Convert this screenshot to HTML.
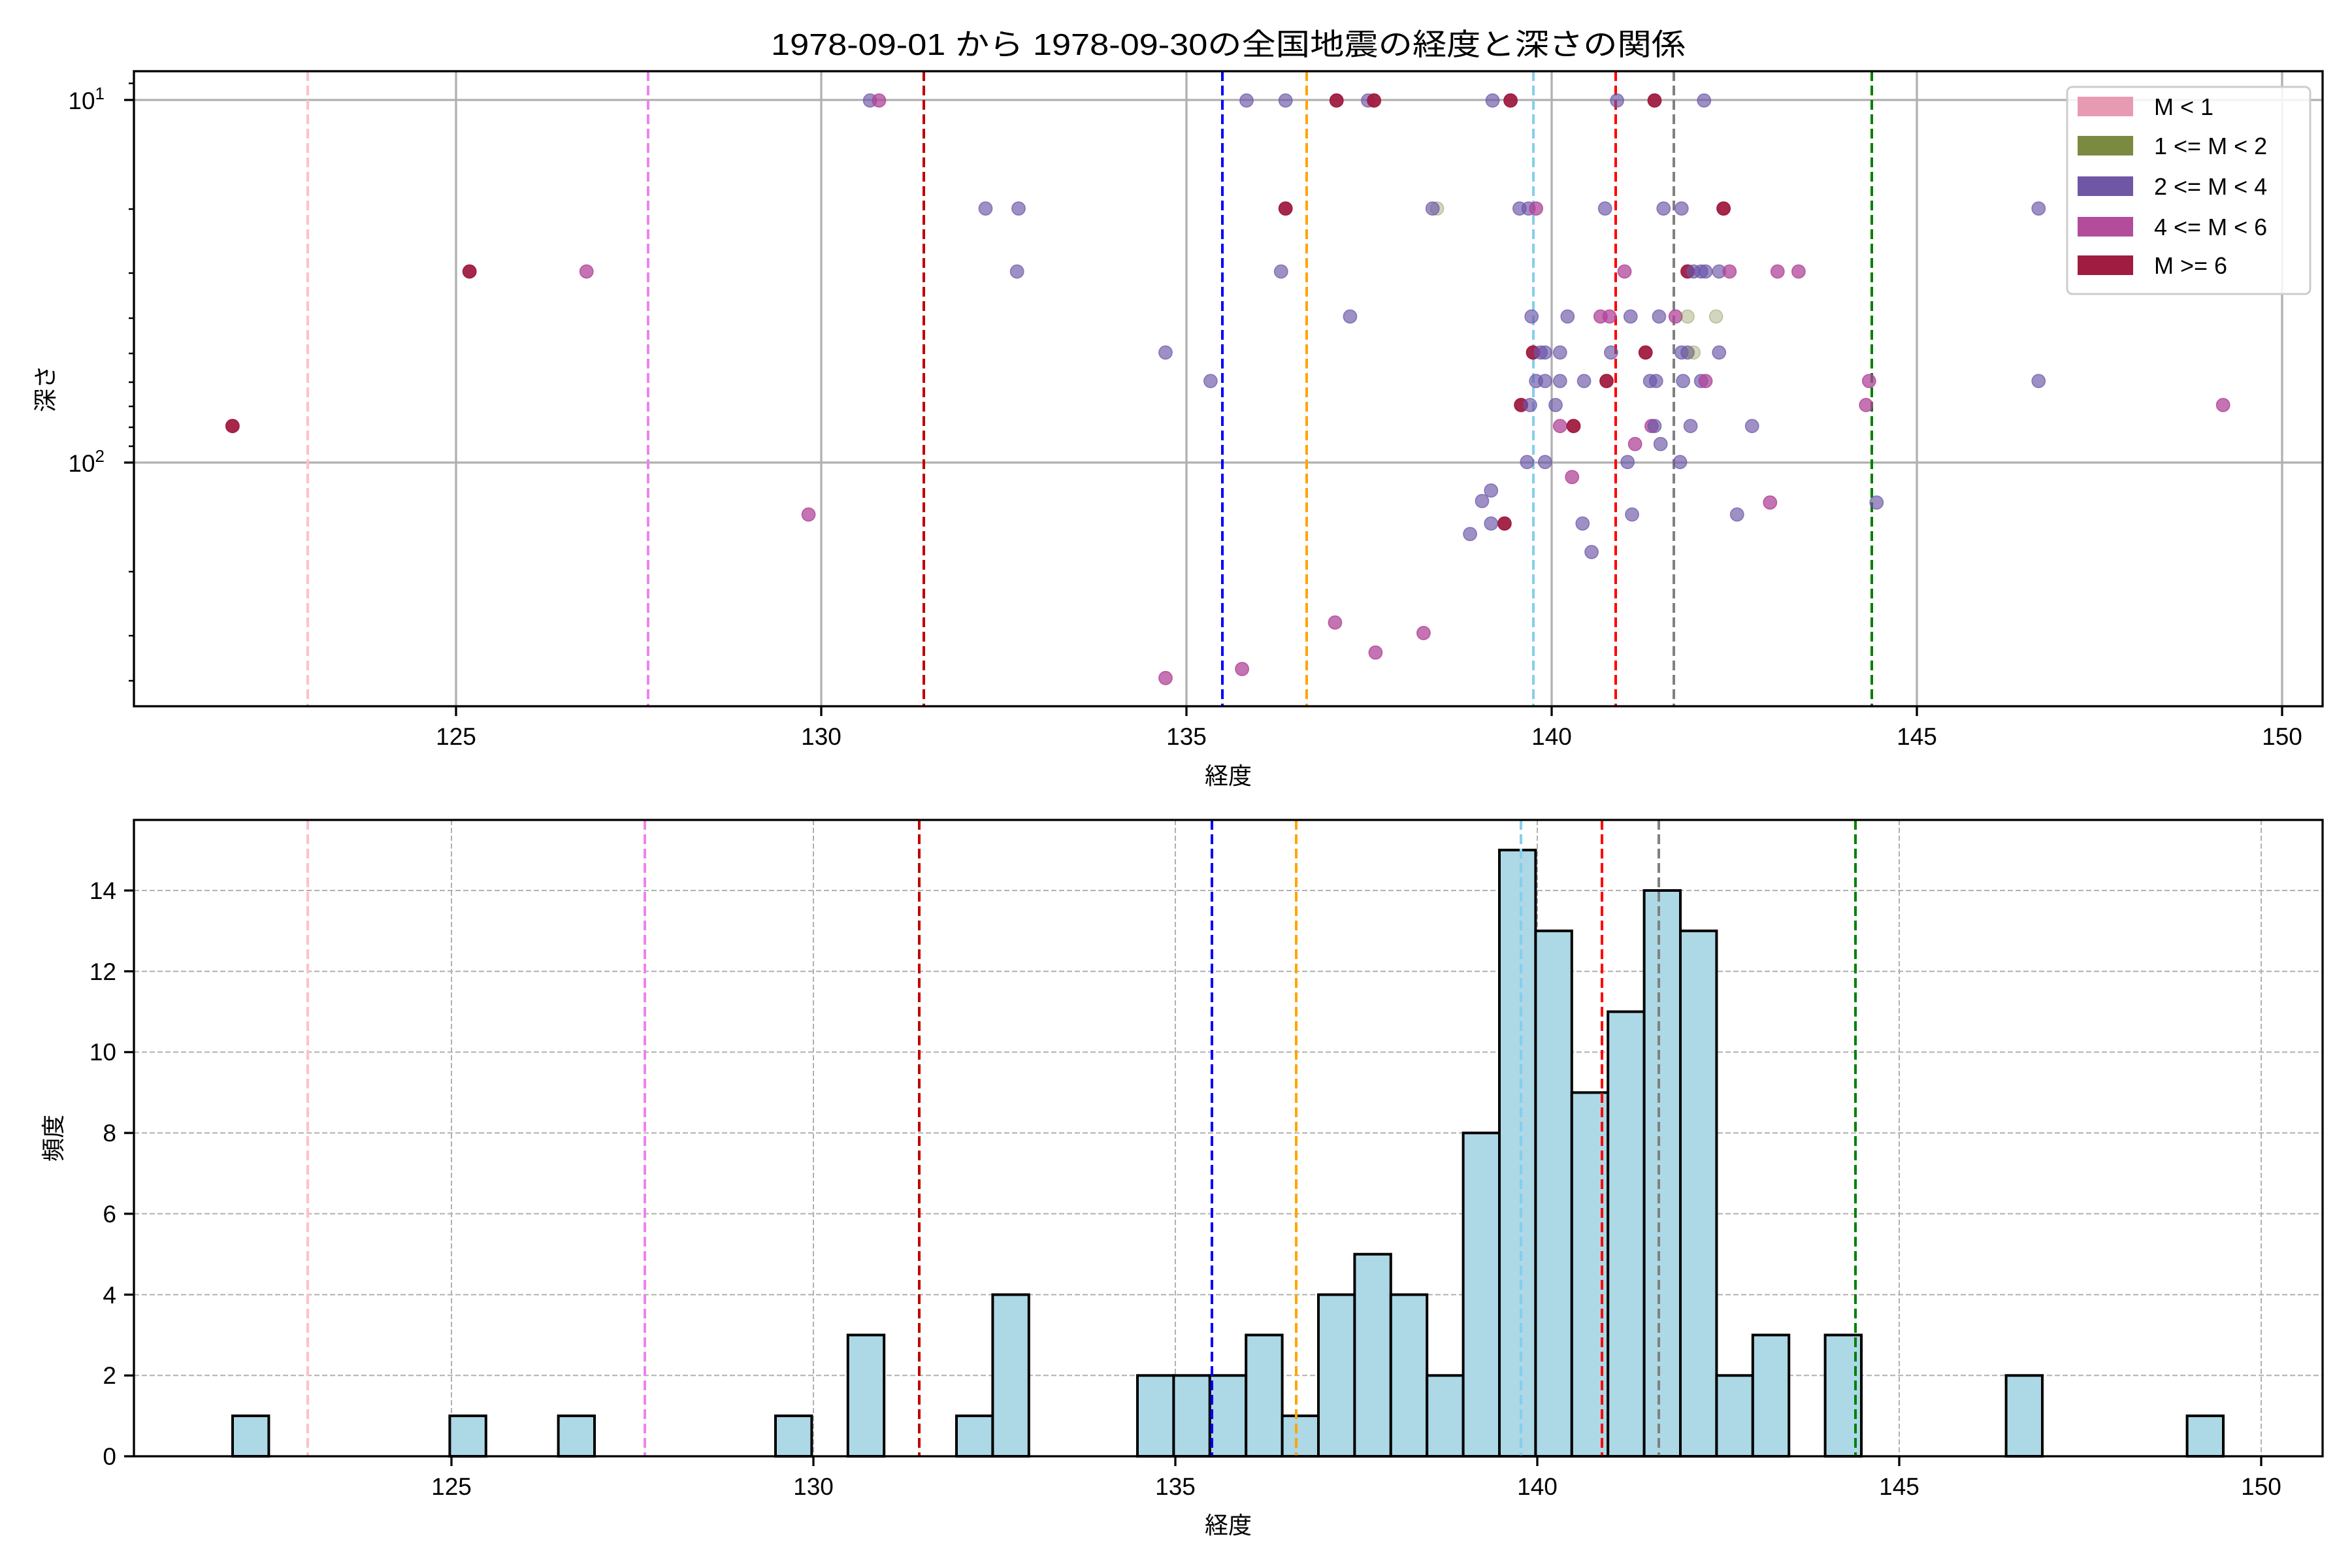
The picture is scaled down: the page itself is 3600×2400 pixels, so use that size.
<!DOCTYPE html>
<html><head><meta charset="utf-8"><style>
html,body{margin:0;padding:0;background:#fff}
svg{display:block}
text{font-family:"Liberation Sans","Noto Sans CJK JP",sans-serif;fill:#000}
.p{fill:#6a55a6;fill-opacity:.65;stroke:#6a55a6;stroke-opacity:.7}
.m{fill:#b0449a;fill-opacity:.75;stroke:#b0449a;stroke-opacity:.8}
.r{fill:#a01c40;fill-opacity:.95;stroke:#a01c40}
.o{fill:#7a8a40;fill-opacity:.35;stroke:#7a8a40;stroke-opacity:.4}
.bar{fill:#add8e6;stroke:#000;stroke-width:4}
</style></head><body>
<svg width="3600" height="2400" viewBox="0 0 3600 2400" xmlns="http://www.w3.org/2000/svg">
<rect width="3600" height="2400" fill="#fff"/>
<text x="1880" y="84" font-size="46" text-anchor="middle" textLength="1400" lengthAdjust="spacingAndGlyphs">1978-09-01 から 1978-09-30の全国地震の経度と深さの関係</text>
<g stroke="#b0b0b0" stroke-width="3.3">
<line x1="698" y1="109" x2="698" y2="1081"/><line x1="1257" y1="109" x2="1257" y2="1081"/><line x1="1816" y1="109" x2="1816" y2="1081"/><line x1="2375" y1="109" x2="2375" y2="1081"/><line x1="2934" y1="109" x2="2934" y2="1081"/><line x1="3493" y1="109" x2="3493" y2="1081"/>
<line x1="205" y1="153" x2="3555" y2="153"/><line x1="205" y1="708" x2="3555" y2="708"/>
</g>
<g stroke-width="4" stroke-dasharray="15 7" fill="none">
<line x1="471" y1="109" x2="471" y2="1081" stroke="#ffc0cb"/>
<line x1="992" y1="109" x2="992" y2="1081" stroke="#ee82ee"/>
<line x1="1414" y1="109" x2="1414" y2="1081" stroke="#c00000"/>
<line x1="1871" y1="109" x2="1871" y2="1081" stroke="#0000ff"/>
<line x1="2000" y1="109" x2="2000" y2="1081" stroke="#ffa500"/>
<line x1="2347" y1="109" x2="2347" y2="1081" stroke="#87ceeb"/>
<line x1="2473" y1="109" x2="2473" y2="1081" stroke="#ff0000"/>
<line x1="2562" y1="109" x2="2562" y2="1081" stroke="#808080"/>
<line x1="2865" y1="109" x2="2865" y2="1081" stroke="#008000"/>
</g>
<g transform="scale(2.296)" stroke-width="0.7">
<circle class="p" cx="580" cy="67" r="4.4"/><circle class="m" cx="586" cy="67" r="4.4"/><circle class="p" cx="831" cy="67" r="4.4"/><circle class="p" cx="857" cy="67" r="4.4"/><circle class="r" cx="891" cy="67" r="4.4"/><circle class="p" cx="912" cy="67" r="4.4"/><circle class="r" cx="916" cy="67" r="4.4"/><circle class="p" cx="995" cy="67" r="4.4"/><circle class="r" cx="1007" cy="67" r="4.4"/><circle class="p" cx="1078" cy="67" r="4.4"/><circle class="r" cx="1103" cy="67" r="4.4"/><circle class="p" cx="1136" cy="67" r="4.4"/>
<circle class="p" cx="657" cy="139" r="4.4"/><circle class="p" cx="679" cy="139" r="4.4"/><circle class="r" cx="857" cy="139" r="4.4"/><circle class="o" cx="958" cy="139" r="4.4"/><circle class="p" cx="955" cy="139" r="4.4"/><circle class="p" cx="1013" cy="139" r="4.4"/><circle class="p" cx="1019" cy="139" r="4.4"/><circle class="m" cx="1024" cy="139" r="4.4"/><circle class="p" cx="1070" cy="139" r="4.4"/><circle class="p" cx="1109" cy="139" r="4.4"/><circle class="p" cx="1121" cy="139" r="4.4"/><circle class="r" cx="1149" cy="139" r="4.4"/><circle class="p" cx="1359" cy="139" r="4.4"/>
<circle class="r" cx="313" cy="181" r="4.4"/><circle class="m" cx="391" cy="181" r="4.4"/><circle class="p" cx="678" cy="181" r="4.4"/><circle class="p" cx="854" cy="181" r="4.4"/><circle class="m" cx="1083" cy="181" r="4.4"/><circle class="r" cx="1125" cy="181" r="4.4"/><circle class="p" cx="1129" cy="181" r="4.4"/><circle class="p" cx="1134" cy="181" r="4.4"/><circle class="p" cx="1137" cy="181" r="4.4"/><circle class="p" cx="1146" cy="181" r="4.4"/><circle class="m" cx="1153" cy="181" r="4.4"/><circle class="m" cx="1185" cy="181" r="4.4"/><circle class="m" cx="1199" cy="181" r="4.4"/>
<circle class="p" cx="900" cy="211" r="4.4"/><circle class="p" cx="1021" cy="211" r="4.4"/><circle class="p" cx="1045" cy="211" r="4.4"/><circle class="m" cx="1067" cy="211" r="4.4"/><circle class="m" cx="1073" cy="211" r="4.4"/><circle class="p" cx="1087" cy="211" r="4.4"/><circle class="p" cx="1106" cy="211" r="4.4"/><circle class="m" cx="1117" cy="211" r="4.4"/><circle class="o" cx="1125" cy="211" r="4.4"/><circle class="o" cx="1144" cy="211" r="4.4"/>
<circle class="p" cx="777" cy="235" r="4.4"/><circle class="r" cx="1022" cy="235" r="4.4"/><circle class="p" cx="1027" cy="235" r="4.4"/><circle class="p" cx="1030" cy="235" r="4.4"/><circle class="p" cx="1040" cy="235" r="4.4"/><circle class="p" cx="1074" cy="235" r="4.4"/><circle class="r" cx="1097" cy="235" r="4.4"/><circle class="p" cx="1121" cy="235" r="4.4"/><circle class="p" cx="1125" cy="235" r="4.4"/><circle class="o" cx="1129" cy="235" r="4.4"/><circle class="p" cx="1146" cy="235" r="4.4"/>
<circle class="p" cx="807" cy="254" r="4.4"/><circle class="p" cx="1024" cy="254" r="4.4"/><circle class="p" cx="1030" cy="254" r="4.4"/><circle class="p" cx="1040" cy="254" r="4.4"/><circle class="p" cx="1056" cy="254" r="4.4"/><circle class="r" cx="1071" cy="254" r="4.4"/><circle class="p" cx="1100" cy="254" r="4.4"/><circle class="p" cx="1104" cy="254" r="4.4"/><circle class="p" cx="1122" cy="254" r="4.4"/><circle class="p" cx="1134" cy="254" r="4.4"/><circle class="m" cx="1137" cy="254" r="4.4"/><circle class="m" cx="1246" cy="254" r="4.4"/><circle class="p" cx="1359" cy="254" r="4.4"/>
<circle class="r" cx="1014" cy="270" r="4.4"/><circle class="p" cx="1020" cy="270" r="4.4"/><circle class="p" cx="1037" cy="270" r="4.4"/><circle class="m" cx="1244" cy="270" r="4.4"/><circle class="m" cx="1482" cy="270" r="4.4"/>
<circle class="r" cx="155" cy="284" r="4.4"/><circle class="m" cx="1040" cy="284" r="4.4"/><circle class="r" cx="1049" cy="284" r="4.4"/><circle class="m" cx="1101" cy="284" r="4.4"/><circle class="p" cx="1103" cy="284" r="4.4"/><circle class="p" cx="1127" cy="284" r="4.4"/><circle class="p" cx="1168" cy="284" r="4.4"/>
<circle class="m" cx="1090" cy="296" r="4.4"/><circle class="p" cx="1107" cy="296" r="4.4"/>
<circle class="p" cx="1018" cy="308" r="4.4"/><circle class="p" cx="1030" cy="308" r="4.4"/><circle class="p" cx="1085" cy="308" r="4.4"/><circle class="p" cx="1120" cy="308" r="4.4"/>
<circle class="m" cx="1048" cy="318" r="4.4"/><circle class="p" cx="994" cy="327" r="4.4"/><circle class="p" cx="988" cy="334" r="4.4"/>
<circle class="m" cx="539" cy="343" r="4.4"/><circle class="p" cx="1088" cy="343" r="4.4"/><circle class="p" cx="1158" cy="343" r="4.4"/><circle class="m" cx="1180" cy="335" r="4.4"/><circle class="p" cx="1251" cy="335" r="4.4"/>
<circle class="p" cx="994" cy="349" r="4.4"/><circle class="r" cx="1003" cy="349" r="4.4"/><circle class="p" cx="1055" cy="349" r="4.4"/><circle class="p" cx="980" cy="356" r="4.4"/><circle class="p" cx="1061" cy="368" r="4.4"/>
<circle class="m" cx="890" cy="415" r="4.4"/><circle class="m" cx="949" cy="422" r="4.4"/><circle class="m" cx="917" cy="435" r="4.4"/><circle class="m" cx="828" cy="446" r="4.4"/><circle class="m" cx="777" cy="452" r="4.4"/>
</g>
<rect x="205" y="109" width="3350" height="972" fill="none" stroke="#000" stroke-width="3.3"/>
<g stroke="#000" stroke-width="3.3">
<line x1="698" y1="1081" x2="698" y2="1096"/><line x1="1257" y1="1081" x2="1257" y2="1096"/><line x1="1816" y1="1081" x2="1816" y2="1096"/><line x1="2375" y1="1081" x2="2375" y2="1096"/><line x1="2934" y1="1081" x2="2934" y2="1096"/><line x1="3493" y1="1081" x2="3493" y2="1096"/>
<line x1="190" y1="153" x2="205" y2="153"/><line x1="190" y1="708" x2="205" y2="708"/>
</g>
<g stroke="#000" stroke-width="2.5">
<line x1="197" y1="127.6" x2="205" y2="127.6"/><line x1="197" y1="320" x2="205" y2="320"/><line x1="197" y1="418" x2="205" y2="418"/><line x1="197" y1="487" x2="205" y2="487"/><line x1="197" y1="541" x2="205" y2="541"/><line x1="197" y1="585" x2="205" y2="585"/><line x1="197" y1="622" x2="205" y2="622"/><line x1="197" y1="654" x2="205" y2="654"/><line x1="197" y1="683" x2="205" y2="683"/><line x1="197" y1="875" x2="205" y2="875"/><line x1="197" y1="973" x2="205" y2="973"/><line x1="197" y1="1042" x2="205" y2="1042"/>
</g>
<g font-size="37" text-anchor="middle">
<text x="698" y="1140">125</text><text x="1257" y="1140">130</text><text x="1816" y="1140">135</text><text x="2375" y="1140">140</text><text x="2934" y="1140">145</text><text x="3493" y="1140">150</text>
</g>
<text x="160" y="167" font-size="37" text-anchor="end">10<tspan font-size="26" dy="-15">1</tspan></text>
<text x="160" y="722" font-size="37" text-anchor="end">10<tspan font-size="26" dy="-15">2</tspan></text>
<text x="1880" y="1200" font-size="36" text-anchor="middle">経度</text>
<text transform="translate(82,595) rotate(-90)" font-size="36" text-anchor="middle">深さ</text>
<rect x="3164" y="133" width="372" height="317" rx="8" fill="#fff" fill-opacity=".85" stroke="#cccccc" stroke-width="3"/>
<rect x="3180" y="148" width="85" height="30" fill="#e89ab2"/>
<rect x="3180" y="208" width="85" height="30" fill="#7a8a40"/>
<rect x="3180" y="270" width="85" height="30" fill="#6f57a6"/>
<rect x="3180" y="332" width="85" height="30" fill="#b44c9c"/>
<rect x="3180" y="391" width="85" height="30" fill="#a01c40"/>
<g font-size="36"><text x="3297" y="176">M &lt; 1</text><text x="3297" y="236">1 &lt;= M &lt; 2</text><text x="3297" y="298">2 &lt;= M &lt; 4</text><text x="3297" y="360">4 &lt;= M &lt; 6</text><text x="3297" y="419">M &gt;= 6</text></g>
<g stroke="#b0b0b0" stroke-width="2" stroke-dasharray="8 4">
<line x1="691" y1="1255" x2="691" y2="2229"/><line x1="1245" y1="1255" x2="1245" y2="2229"/><line x1="1799" y1="1255" x2="1799" y2="2229"/><line x1="2353" y1="1255" x2="2353" y2="2229"/><line x1="2907" y1="1255" x2="2907" y2="2229"/><line x1="3461" y1="1255" x2="3461" y2="2229"/>
<line x1="205" y1="2105.3" x2="3555" y2="2105.3"/><line x1="205" y1="1981.6" x2="3555" y2="1981.6"/><line x1="205" y1="1857.8" x2="3555" y2="1857.8"/><line x1="205" y1="1734.1" x2="3555" y2="1734.1"/><line x1="205" y1="1610.4" x2="3555" y2="1610.4"/><line x1="205" y1="1486.7" x2="3555" y2="1486.7"/><line x1="205" y1="1363" x2="3555" y2="1363"/>
</g>
<g>
<rect class="bar" x="356" y="2167.1" width="55.4" height="61.9"/>
<rect class="bar" x="688.4" y="2167.1" width="55.4" height="61.9"/>
<rect class="bar" x="854.6" y="2167.1" width="55.4" height="61.9"/>
<rect class="bar" x="1187" y="2167.1" width="55.4" height="61.9"/>
<rect class="bar" x="1297.8" y="2043.4" width="55.4" height="185.6"/>
<rect class="bar" x="1464" y="2167.1" width="55.4" height="61.9"/>
<rect class="bar" x="1519.4" y="1981.6" width="55.4" height="247.4"/>
<rect class="bar" x="1741" y="2105.3" width="55.4" height="123.7"/>
<rect class="bar" x="1796.4" y="2105.3" width="55.4" height="123.7"/>
<rect class="bar" x="1851.8" y="2105.3" width="55.4" height="123.7"/>
<rect class="bar" x="1907.2" y="2043.4" width="55.4" height="185.6"/>
<rect class="bar" x="1962.6" y="2167.1" width="55.4" height="61.9"/>
<rect class="bar" x="2018" y="1981.6" width="55.4" height="247.4"/>
<rect class="bar" x="2073.4" y="1919.7" width="55.4" height="309.3"/>
<rect class="bar" x="2128.8" y="1981.6" width="55.4" height="247.4"/>
<rect class="bar" x="2184.2" y="2105.3" width="55.4" height="123.7"/>
<rect class="bar" x="2239.6" y="1734.1" width="55.4" height="494.9"/>
<rect class="bar" x="2295" y="1301.1" width="55.4" height="927.9"/>
<rect class="bar" x="2350.4" y="1424.8" width="55.4" height="804.2"/>
<rect class="bar" x="2405.8" y="1672.3" width="55.4" height="556.7"/>
<rect class="bar" x="2461.2" y="1548.5" width="55.4" height="680.5"/>
<rect class="bar" x="2516.6" y="1363" width="55.4" height="866"/>
<rect class="bar" x="2572" y="1424.8" width="55.4" height="804.2"/>
<rect class="bar" x="2627.4" y="2105.3" width="55.4" height="123.7"/>
<rect class="bar" x="2682.8" y="2043.4" width="55.4" height="185.6"/>
<rect class="bar" x="2793.6" y="2043.4" width="55.4" height="185.6"/>
<rect class="bar" x="3070.6" y="2105.3" width="55.4" height="123.7"/>
<rect class="bar" x="3347.6" y="2167.1" width="55.4" height="61.9"/>
</g>
<g stroke-width="4" stroke-dasharray="15 7" fill="none">
<line x1="471" y1="1255" x2="471" y2="2229" stroke="#ffc0cb"/>
<line x1="987" y1="1255" x2="987" y2="2229" stroke="#ee82ee"/>
<line x1="1407" y1="1255" x2="1407" y2="2229" stroke="#c00000"/>
<line x1="1855" y1="1255" x2="1855" y2="2229" stroke="#0000ff"/>
<line x1="1984" y1="1255" x2="1984" y2="2229" stroke="#ffa500"/>
<line x1="2328" y1="1255" x2="2328" y2="2229" stroke="#87ceeb"/>
<line x1="2452" y1="1255" x2="2452" y2="2229" stroke="#ff0000"/>
<line x1="2539" y1="1255" x2="2539" y2="2229" stroke="#808080"/>
<line x1="2840" y1="1255" x2="2840" y2="2229" stroke="#008000"/>
</g>
<rect x="205" y="1255" width="3350" height="974" fill="none" stroke="#000" stroke-width="3.3"/>
<g stroke="#000" stroke-width="3.3">
<line x1="691" y1="2229" x2="691" y2="2244"/><line x1="1245" y1="2229" x2="1245" y2="2244"/><line x1="1799" y1="2229" x2="1799" y2="2244"/><line x1="2353" y1="2229" x2="2353" y2="2244"/><line x1="2907" y1="2229" x2="2907" y2="2244"/><line x1="3461" y1="2229" x2="3461" y2="2244"/>
<line x1="190" y1="2229" x2="205" y2="2229"/><line x1="190" y1="2105.3" x2="205" y2="2105.3"/><line x1="190" y1="1981.6" x2="205" y2="1981.6"/><line x1="190" y1="1857.8" x2="205" y2="1857.8"/><line x1="190" y1="1734.1" x2="205" y2="1734.1"/><line x1="190" y1="1610.4" x2="205" y2="1610.4"/><line x1="190" y1="1486.7" x2="205" y2="1486.7"/><line x1="190" y1="1363" x2="205" y2="1363"/>
</g>
<g font-size="37" text-anchor="middle">
<text x="691" y="2288">125</text><text x="1245" y="2288">130</text><text x="1799" y="2288">135</text><text x="2353" y="2288">140</text><text x="2907" y="2288">145</text><text x="3461" y="2288">150</text>
</g>
<g font-size="37" text-anchor="end">
<text x="178" y="2242">0</text><text x="178" y="2118">2</text><text x="178" y="1995">4</text><text x="178" y="1871">6</text><text x="178" y="1747">8</text><text x="178" y="1623">10</text><text x="178" y="1500">12</text><text x="178" y="1376">14</text>
</g>
<text x="1880" y="2347" font-size="36" text-anchor="middle">経度</text>
<text transform="translate(94,1742) rotate(-90)" font-size="36" text-anchor="middle">頻度</text>
</svg>
</body></html>
